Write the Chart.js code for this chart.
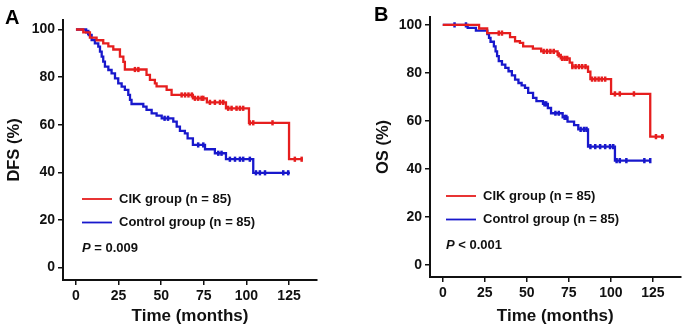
<!DOCTYPE html>
<html>
<head>
<meta charset="utf-8">
<script src="https://cdn.jsdelivr.net/npm/chart.js@4.4.1/dist/chart.umd.min.js"></script>
<style>
  body { margin: 0; background: #fff; }
  #wrap { position: relative; width: 687px; height: 333px; }
  .panel { position: absolute; top: 0; height: 333px; }
  .tag { position: absolute; font: bold 20px "Liberation Sans", Arial, sans-serif; color: #000; line-height: 23px; }
</style>
</head>
<body>
<div id="wrap">
  <div class="panel" style="left:0;width:343px"><canvas id="chartA"></canvas></div>
  <div class="panel" style="left:343px;width:344px"><canvas id="chartB"></canvas></div>
  <div class="tag" style="left:5px;top:6px">A</div>
  <div class="tag" style="left:374px;top:3px">B</div>
</div>
<script>
const timeTicks = [0, 25, 50, 75, 100, 125];
const pctTicks = [0, 20, 40, 60, 80, 100];
const groupNames = ['CIK group (n = 85)', 'Control group (n = 85)'];
const pLabels = ['= 0.009', '< 0.001'];

// A - DFS. step times (months) and survival (%) after each step
const dfsCikT = [0, 4.3, 8.2, 12.1, 16, 19, 21.9, 25.8, 27.8, 28.7, 41.4, 43.4, 46.3, 47.3, 53.2, 56.1, 68.6, 76.8, 88, 101.5, 125, 133];
const dfsCikS = [100, 98.8, 96.6, 95.5, 94.2, 92.9, 91.6, 88.6, 86.4, 83.2, 80.9, 78.8, 77.4, 76.1, 74.6, 72.5, 71.1, 69.4, 66.9, 60.8, 45.5, 45.5];
const dfsCikCens = [34.6, 36.6, 62, 64, 66, 68, 69.8, 71.7, 73.7, 74.7, 78.6, 81.5, 84.5, 86.4, 89.3, 91.3, 94.2, 96.2, 98.1, 102, 104, 115.3, 128.4, 132.4];

const dfsCtlT = [0, 6, 7.5, 9.2, 11.1, 13.1, 14.1, 15.1, 16, 17, 19, 20.9, 22.9, 24.8, 26.8, 28.7, 30.7, 31.7, 32.6, 39.5, 41.4, 44.4, 47.3, 50.3, 57.1, 59.1, 61, 63.9, 65.5, 68.6, 75.7, 81.5, 88, 104, 125.5];
const dfsCtlS = [100, 98.8, 97.7, 95.6, 94.2, 92.8, 90.7, 88.6, 86.5, 84.4, 83, 81.6, 79.5, 77.4, 76, 74.6, 72.5, 70.4, 68.7, 67.6, 66.2, 64.8, 63.8, 62.7, 61.3, 59.2, 57.4, 56.4, 54.3, 51.5, 49.7, 48, 45.5, 39.8, 39.8];
const dfsCtlCens = [7.2, 52, 54, 71.7, 74.7, 83.5, 85.4, 90.3, 93.3, 96.2, 98.1, 102, 105.6, 107.9, 110.9, 121.6, 124.5];

// B - OS
const osCikT = [0, 21.6, 26.4, 40, 43, 45.9, 47.8, 53.6, 58.5, 68.3, 70.2, 75.5, 77, 86.4, 87.8, 100.1, 123.4, 131.6];
const osCikS = [100, 98.5, 96.6, 94.9, 93.2, 92.5, 91.1, 90.1, 89, 87.5, 86.1, 84.3, 82.6, 80.5, 77.4, 71.3, 53.5, 53.5];
const osCikCens = [33.3, 35.2, 60, 62, 64, 66, 69, 71, 72.5, 74, 77.1, 79, 81, 82.9, 84.9, 88.8, 90.7, 92.7, 94.6, 96.6, 102.4, 105.3, 113.7, 126.8, 130.6];

const osCtlT = [0, 14.8, 19.7, 26.5, 27.5, 28.4, 30.4, 31.4, 32.3, 33.3, 35.2, 37.2, 39.1, 41.1, 43, 45, 46.9, 48.9, 50.8, 53.7, 55.7, 59.6, 62.5, 64.4, 71.3, 74.2, 78.1, 80.6, 86.4, 102.4, 123.8];
const osCtlS = [100, 98.8, 97.6, 96.2, 94.6, 93, 91.1, 89, 87, 84.9, 83.5, 82.1, 80.7, 79, 77.2, 75.8, 74.8, 73.75, 71.7, 69.6, 68.3, 67.1, 65.4, 63.2, 61.5, 59.7, 58.3, 56.5, 49.3, 43.5, 43.5];
const osCtlCens = [7, 13.8, 60.5, 61.5, 67, 69, 72.5, 73.5, 82, 84, 85.5, 87.8, 90.7, 93.6, 96.6, 99.5, 101.4, 103.4, 105.3, 109.2, 119.9, 123.4];

const RED = '#e61e1e';
const BLUE = '#1818cc';
const FONT = '"Liberation Sans", Arial, sans-serif';

function survAt(ts, ss, t) {
  let v = ss[0];
  for (let i = 0; i < ts.length; i++) if (ts[i] <= t) v = ss[i];
  return v;
}

function curve(ts, ss, color) {
  return {
    data: ts.map((t, i) => ({ x: t, y: ss[i] })),
    borderColor: color, borderWidth: 2.3, stepped: true,
    pointRadius: 0, fill: false
  };
}

function marks(ts, ss, cens, color) {
  return {
    data: cens.map(t => ({ x: t, y: survAt(ts, ss, t) })),
    showLine: false, pointStyle: 'line', rotation: 90,
    pointRadius: 2.6, borderColor: color, borderWidth: 2.5
  };
}

// legend + p value drawn inside the plot
const kmLegend = {
  id: 'kmLegend',
  afterDraw(chart, args, opts) {
    const { ctx, chartArea } = chart;
    const x0 = chartArea.left + opts.dx;
    const y0 = chartArea.top;
    ctx.save();
    ctx.font = 'bold 13px ' + FONT;
    ctx.textBaseline = 'middle';
    ctx.fillStyle = '#111';
    [RED, BLUE].forEach((c, i) => {
      const y = y0 + 179 + i * 23.5;
      ctx.strokeStyle = c;
      ctx.lineWidth = 1.8;
      ctx.beginPath();
      ctx.moveTo(x0, y);
      ctx.lineTo(x0 + 30, y);
      ctx.stroke();
      ctx.fillText(groupNames[i], x0 + 37, y);
    });
    const py = y0 + 228;
    ctx.font = 'italic bold 13px ' + FONT;
    ctx.fillText('P', x0, py);
    const w = ctx.measureText('P ').width;
    ctx.font = 'bold 13px ' + FONT;
    ctx.fillText(pLabels[opts.idx], x0 + w, py);
    ctx.restore();
  }
};

function makeChart(id, sets, cfg) {
  new Chart(document.getElementById(id), {
    type: 'line',
    data: { datasets: sets },
    plugins: [kmLegend],
    options: {
      responsive: true, maintainAspectRatio: false, animation: false,
      layout: { padding: { top: cfg.top, right: cfg.right, left: 0, bottom: 0 } },
      plugins: { legend: { display: false }, tooltip: { enabled: false }, kmLegend: { dx: cfg.dx, idx: cfg.idx } },
      scales: {
        x: {
          type: 'linear', min: -7.6, max: 141.4,
          afterBuildTicks: s => { s.ticks = timeTicks.map(v => ({ value: v })); },
          afterFit: s => { s.height = cfg.xh; },
          grid: { drawOnChartArea: false, drawTicks: true, tickLength: 5, color: '#111', lineWidth: 1.5 },
          border: { color: '#111', width: 2 },
          ticks: { color: '#111', padding: 3, font: { family: FONT, size: 14, weight: 'bold' } },
          title: { display: true, text: 'Time (months)', color: '#111', padding: { top: 0, bottom: 6 }, font: { family: FONT, size: 17, weight: 'bold' } }
        },
        y: {
          min: cfg.ymin, max: cfg.ymax,
          afterBuildTicks: s => { s.ticks = pctTicks.map(v => ({ value: v })); },
          afterFit: s => { s.width = cfg.yw; },
          grid: { drawOnChartArea: false, drawTicks: true, tickLength: 5, color: '#111', lineWidth: 1.5 },
          border: { color: '#111', width: 2 },
          ticks: { color: '#111', padding: 3, font: { family: FONT, size: 14, weight: 'bold' } },
          title: { display: true, text: cfg.ytitle, color: '#111', padding: { top: cfg.tp, bottom: 0 }, font: { family: FONT, size: 16.5, weight: 'bold' } }
        }
      }
    }
  });
}

makeChart('chartA', [
  curve(dfsCikT, dfsCikS, RED),
  curve(dfsCtlT, dfsCtlS, BLUE),
  marks(dfsCikT, dfsCikS, dfsCikCens, RED),
  marks(dfsCtlT, dfsCtlS, dfsCtlCens, BLUE)
], { top: 20, right: 26, xh: 53, yw: 63, ymin: -5.25, ymax: 104, ytitle: 'DFS (%)', tp: 5, dx: 19, idx: 0 });

makeChart('chartB', [
  curve(osCikT, osCikS, RED),
  curve(osCtlT, osCtlS, BLUE),
  marks(osCikT, osCikS, osCikCens, RED),
  marks(osCtlT, osCtlS, osCtlCens, BLUE)
], { top: 17, right: 2, xh: 56, yw: 87, ymin: -5, ymax: 103.3, ytitle: 'OS (%)', tp: 31, dx: 16, idx: 1 });
</script>
</body>
</html>
